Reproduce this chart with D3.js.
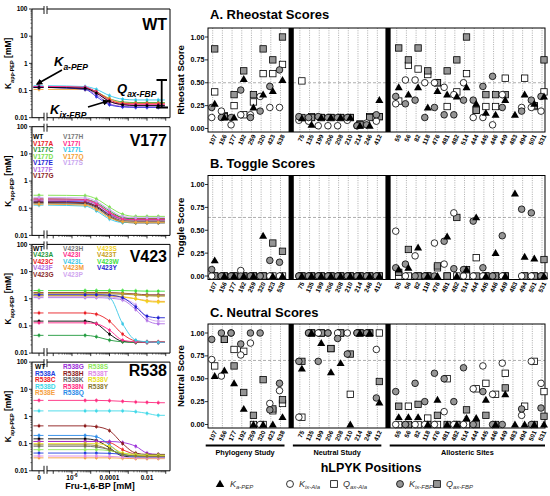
<!DOCTYPE html>
<html><head><meta charset="utf-8">
<script src="https://cdn.jsdelivr.net/npm/d3@7"></script>
<style>body{margin:0;background:#fff} svg{display:block;font-family:"Liberation Sans",Arial,Helvetica,sans-serif}</style>
</head><body><svg id="c" width="550" height="496"></svg>
<script>
// ================= DATA =================
// --- right: score panels ---
const phyloSites = [107,156,177,192,259,320,423,538];
const neutralSites = [75,135,199,206,208,210,214,246,412];
const alloSites = [55,56,82,118,476,481,482,514,444,445,446,449,483,494,501,531];
const categories = [...phyloSites, ...neutralSites, ...alloSites];
const scoreTicks = [0, 0.25, 0.5, 0.75, 1];
const scoreTickLabels = ['0.00','0.25','0.50','0.75','1.00'];

const rheoKaPEP  = [0.27,0.12,0.12,0.54,0.23,0.37,0.41,0.53, 0.11,0.04,0.12,0.12,0.12,0.12,0.03,0.03,0.31, 0.45,0.37,0.45,0.23,0.41,0.37,0.35,0.45,0.27,0.17,0.15,0.31,0.15,0.37,0.27,0.35];
const rheoKixAla = [0.12,0.19,0.04,0.15,0.15,0.35,0.23,0.23, 0.09,0.08,0.03,0.03,0.03,0.09,0.03,0.06,0.08, 0.27,0.53,0.53,0.50,0.50,0.45,0.37,0.50,0.12,0.12,0.04,0.37,null,0.23,0.23,0.19];
const rheoQaxAla = [0.40,0.14,0.25,0.15,0.29,0.60,0.60,0.70, 0.52,0.13,0.12,0.12,0.12,0.12,0.05,0.13,0.13, 0.30,0.69,0.65,0.59,0.50,0.24,0.40,0.60,0.20,0.24,0.24,0.55,null,0.55,0.24,0.40];
const rheoKixFBP = [0.23,0.12,0.12,0.42,0.12,0.19,0.46,0.64, 0.13,0.12,0.13,0.12,0.12,0.12,0.03,0.04,0.15, 0.35,0.27,0.31,0.12,0.23,0.15,0.15,0.31,0.31,0.46,0.57,0.23,null,0.19,0.31,0.35];
const rheoQaxFBP = [0.87,0.13,0.37,0.63,0.37,0.87,0.75,1.00, 0.12,0.12,0.12,0.12,0.12,0.12,0.04,0.12,0.13, 0.88,0.75,0.88,0.63,0.50,0.63,0.75,1.00,0.20,0.37,0.37,0.37,null,null,0.25,0.75];

const toggleKaPEP  = [0.17,0,0,0,0,0.44,0,0, 0,0,0,0,0,0,0,0,0, 0.07,0.09,0.31,0,0,0.43,0,0.07,0.64,0,0.25,0,0.90,0.21,0.19,0];
const toggleKixAla = [0,0,0,0.06,0,0,0,0, 0,0,0,0,0,0,0,0,0, 0.49,0,0.22,0,0.36,0.13,0.69,0,0,0,0,0,null,0,0,0];
const toggleQaxAla = [0,0,0,0,0,0,0,0, 0,0,0,0,0,0,0,0,0, 0,0,0,0,0.09,0,0,0,0.20,0,0,0,null,0,0,0];
const toggleKixFBP = [0.07,0,0,0,0,0,0.17,0.15, 0,0,0,0,0,0,0,0,0, 0.09,0.13,0,0,0,0.38,0.08,0.07,0.60,0.09,0,0.44,null,0.73,0.69,0];
const toggleQaxFBP = [0,0,0,0,0,0,0.36,0.27, 0,0,0,0,0,0,0,0,0, 0.04,0.29,0,0,0.11,0,0.64,0.07,0,0,0,0,null,0,0,0.18];

const neutralKaPEP  = [0.53,0.59,0.45,0.17,0,0,0,0.08, 0.61,1,0.89,0.57,0.67,0,1,1,0.24, 0.08,0.08,0.08,0,0.27,0,0,0.07,0.07,0.27,0,0.33,0,0,0,0];
const neutralKixAla = [0.71,0.53,1,0.76,0.89,0,0.23,0.37, 0.08,1,1,1,1,1,1,1,0.82, 0,0,0,0,0,0.14,0,0,0.39,0.64,0.33,0.67,null,0.10,0.69,0.45];
const neutralQaxAla = [0.64,0.93,0.82,0.80,0,0,0.15,0.23, 0.08,1,1,0.83,1,0.33,1,1,1, 0,0.20,0,0.07,0,0.50,0,0,0.39,0.45,0.33,0.56,null,0.20,0.69,0.36];
const neutralKixFBP = [0.93,1,1,0.88,1,1,0.16,0.45, 0.69,1,0.69,1,0.94,0.77,1,1,0.29, 0.36,0,0.45,0.25,0.56,0.50,0.25,0.62,0,0.36,0,0,null,0.17,0,0.18];
const neutralQaxFBP = [null,0.93,0.64,0.35,0.10,0.49,0.17,0.27, 0.69,1,1,0.83,1,0.77,1,1,0.47, 0.20,0,0.22,0,0.10,0,0,0.16,0,0.10,0,0.40,null,null,0,0.09];

// --- left: K_app-PEP vs Fru-1,6-BP ---
const fbpConc = [5e-6, 2e-5, 1e-4, 5e-4, 2.5e-3, 1e-2, 4e-2]; // values[0] is at Fru-1,6-BP = 0
const leftTicks = [0.01, 0.1, 1, 10, 100];
const leftTickLabels = ['0.01','0.1','1','10','100'];

const wtCurveColors = ['#2ec7ec','#1f9a3c','#f5a030','#ea2026','#ff2aa0','#9b4fe0','#2828d8','#000000'];
const wtCurveValues = [
  [0.15,0.14,0.11,0.065,0.048,0.045,0.045,0.045],
  [0.13,0.12,0.09,0.05,0.038,0.036,0.036,0.036],
  [0.11,0.11,0.085,0.05,0.035,0.034,0.034,0.034],
  [0.14,0.13,0.09,0.045,0.033,0.032,0.032,0.032],
  [0.14,0.13,0.085,0.04,0.031,0.03,0.03,0.03],
  [0.13,0.115,0.07,0.033,0.026,0.025,0.025,0.025],
  [0.13,0.11,0.06,0.03,0.025,0.024,0.024,0.024],
  [0.13,0.12,0.08,0.04,0.03,0.028,0.028,0.028]
];

const v177Names = ['WT','V177A','V177C','V177D','V177E','V177F','V177G','V177H','V177I','V177L','V177Q','V177S'];
const v177Colors = ['#000000','#ea2026','#1f9a3c','#7be04a','#2424d6','#b070e6','#8b1c1c','#7a7a7a','#ff2a8a','#2ec7ec','#f5a030','#c9a6f0'];
const v177Values = [
  [0.16,0.15,0.11,0.05,0.031,0.029,0.029,0.029],
  [0.2,0.19,0.14,0.07,0.045,0.042,0.042,0.042],
  [0.22,0.21,0.16,0.08,0.045,0.04,0.04,0.04],
  [0.3,0.29,0.22,0.11,0.06,0.05,0.05,0.05],
  [0.18,0.17,0.12,0.06,0.04,0.038,0.038,0.038],
  [0.2,0.19,0.14,0.065,0.04,0.037,0.037,0.037],
  [0.17,0.16,0.12,0.055,0.035,0.033,0.033,0.033],
  [0.15,0.14,0.1,0.05,0.035,0.034,0.034,0.034],
  [0.22,0.21,0.15,0.07,0.04,0.038,0.038,0.038],
  [0.13,0.12,0.08,0.04,0.03,0.03,0.03,0.03],
  [0.14,0.13,0.09,0.045,0.032,0.03,0.03,0.03],
  [0.25,0.24,0.18,0.09,0.05,0.045,0.045,0.045]
];

const v423Names = ['WT','V423A','V423C','V423F','V423G','V423H','V423I','V423L','V423M','V423P','V423S','V423T','V423W','V423Y'];
const v423Colors = ['#000000','#1f9a3c','#ea2026','#b070e6','#8b2a2a','#7a7a7a','#ff2a8a','#3cc8e6','#f39c33','#d1a6f0','#f2d21b','#c8a020','#3ee03e','#1f1fd0'];
const v423Values = [
  [0.15,0.15,0.12,0.05,0.027,0.025,0.025,0.025],
  [0.045,0.045,0.04,0.03,0.026,0.025,0.025,0.025],
  [0.3,0.3,0.27,0.15,0.05,0.028,0.026,0.026],
  [1.1,1.1,1.1,1.05,0.9,0.4,0.16,0.12],
  [1.7,1.7,1.7,1.7,1.6,1.5,1.4,1.4],
  [1.5,1.5,1.5,1.5,1.45,1.4,1.3,1.3],
  [0.13,0.13,0.12,0.07,0.03,0.026,0.025,0.025],
  [1.3,1.3,1.3,1.1,0.12,0.03,0.026,0.025],
  [1.3,1.3,1.3,1.25,1.15,1.0,0.85,0.8],
  [1.2,1.2,1.2,1.15,1.0,0.6,0.2,0.15],
  [1.3,1.3,1.3,1.3,1.2,1.0,0.8,0.75],
  [1.6,1.6,1.6,1.6,1.55,1.4,1.3,1.25],
  [2.0,2.0,2.0,2.0,2.0,1.95,1.9,1.9],
  [1.4,1.4,1.4,1.35,1.1,0.5,0.23,0.2]
];

const r538Names = ['WT','R538A','R538C','R538D','R538E','R538G','R538H','R538K','R538N','R538Q','R538S','R538T','R538V','R538Y'];
const r538Colors = ['#000000','#2040e0','#ee2222','#40d8e8','#f5a040','#9b30d9','#8b1a1a','#666666','#ff2a7f','#2a8ae8','#8ee85a','#e08ae8','#e8e020','#8a7a30'];
const r538Values = [
  [0.15,0.15,0.13,0.07,0.035,0.032,0.032,0.032],
  [0.045,0.045,0.045,0.044,0.04,0.035,0.033,0.033],
  [0.12,0.12,0.12,0.11,0.06,0.04,0.035,0.035],
  [1.6,1.6,1.6,1.6,1.6,1.5,1.3,1.1],
  [0.03,0.03,0.03,0.03,0.029,0.028,0.028,0.028],
  [0.12,0.12,0.12,0.12,0.11,0.08,0.045,0.04],
  [0.45,0.45,0.42,0.3,0.1,0.045,0.04,0.04],
  [0.08,0.08,0.075,0.06,0.04,0.035,0.034,0.034],
  [3.9,3.9,3.9,3.8,3.6,3.4,3.3,3.2],
  [0.2,0.2,0.18,0.09,0.04,0.033,0.032,0.032],
  [0.06,0.06,0.06,0.055,0.045,0.04,0.038,0.038],
  [0.035,0.035,0.035,0.034,0.032,0.03,0.03,0.03],
  [0.1,0.1,0.1,0.08,0.045,0.038,0.036,0.036],
  [0.09,0.09,0.085,0.06,0.04,0.035,0.034,0.034]
];

// ================= DRAWING =================
const svg = d3.select('#c');
const B = 'bold';

function subText(sel, x, y, main, sub, size, subSize, opts = {}) {
  const t = sel.append('text').attr('x', x).attr('y', y)
    .attr('font-size', size).attr('font-weight', opts.weight || B)
    .attr('fill', opts.fill || '#000');
  if (opts.italic) t.attr('font-style', 'italic');
  if (opts.anchor) t.attr('text-anchor', opts.anchor);
  if (opts.transform) t.attr('transform', opts.transform);
  t.append('tspan').text(main);
  t.append('tspan').attr('font-size', subSize).attr('dy', size * 0.3).text(sub);
  if (opts.tail) t.append('tspan').attr('font-size', size).attr('dy', -size * 0.3).attr('font-style', 'normal').text(opts.tail);
  return t;
}

// ---------- LEFT PANELS ----------
const L = { x0: 32, x1: 170, zeroX: 39, b0: 44, b1: 47, top0: 9, step: 117.7, h: 108.7 };
const xLog = d3.scaleLog().domain([Math.pow(10, -7.333), Math.pow(10, -0.773)]).range([L.b1, L.x1]);
const leftPanels = [
  { label: 'WT', labelY: 30, names: null, colors: wtCurveColors, values: wtCurveValues },
  { label: 'V177', labelY: 146, names: v177Names, colors: v177Colors, values: v177Values, rows: 7, colX: [33, 63], legY: 139 },
  { label: 'V423', labelY: 261.5, names: v423Names, colors: v423Colors, values: v423Values, rows: 5, colX: [33, 63, 97], legY: 250.5 },
  { label: 'R538', labelY: 376, names: r538Names, colors: r538Colors, values: r538Values, rows: 5, colX: [35, 63, 88], legY: 369 }
];
const line = d3.line().x(d => d[0]).y(d => d[1]).curve(d3.curveMonotoneX);

leftPanels.forEach((p, i) => {
  const top = L.top0 + i * L.step, bot = top + L.h;
  const y = d3.scaleLog().domain([0.01, 100]).range([bot, top]);
  const g = svg.append('g');

  // curves
  p.values.forEach((vals, j) => {
    const col = p.colors[j];
    const pts = [[L.b1 + 1, y(vals[0])]].concat(fbpConc.map((c, k) => [xLog(c), y(vals[k + 1])]));
    pts.push([xLog(0.09), y(vals[vals.length - 1])]);
    g.append('path').attr('d', line(pts)).attr('fill', 'none').attr('stroke', col).attr('stroke-width', 0.9);
    g.append('line').attr('x1', L.x0 + 1.5).attr('x2', L.b0 - 0.5)
      .attr('y1', y(vals[0])).attr('y2', y(vals[0])).attr('stroke', col).attr('stroke-width', 0.9);
    const mk = [[L.zeroX, y(vals[0])]].concat(fbpConc.map((c, k) => [xLog(c), y(vals[k + 1])]));
    mk.forEach(m => {
      g.append('line').attr('x1', m[0]).attr('x2', m[0]).attr('y1', m[1] - 2.2).attr('y2', m[1] + 2.2)
        .attr('stroke', col).attr('stroke-width', 0.6);
      g.append('rect').attr('x', m[0] - 1.2).attr('y', m[1] - 1.2).attr('width', 2.4).attr('height', 2.4).attr('fill', col);
    });
  });

  // frame with axis break
  const fr = d3.path();
  fr.moveTo(L.b0, top); fr.lineTo(L.x0, top); fr.lineTo(L.x0, bot); fr.lineTo(L.b0, bot);
  fr.moveTo(L.b1, top); fr.lineTo(L.x1, top); fr.lineTo(L.x1, bot); fr.lineTo(L.b1, bot);
  g.append('path').attr('d', fr.toString()).attr('fill', 'none').attr('stroke', '#000').attr('stroke-width', 1);
  [L.b0, L.b1].forEach(bx => {
    g.append('line').attr('x1', bx).attr('x2', bx).attr('y1', top - 3).attr('y2', top + 5).attr('stroke', '#000').attr('stroke-width', 0.9);
    g.append('line').attr('x1', bx).attr('x2', bx).attr('y1', bot - 5).attr('y2', bot + 3).attr('stroke', '#000').attr('stroke-width', 0.9);
  });

  // y ticks
  leftTicks.forEach((t, k) => {
    g.append('line').attr('x1', L.x0 - 3).attr('x2', L.x0).attr('y1', y(t)).attr('y2', y(t)).attr('stroke', '#000').attr('stroke-width', 0.8);
    g.append('text').attr('x', L.x0 - 4.5).attr('y', y(t)).attr('dy', '0.35em').attr('text-anchor', 'end')
      .attr('font-size', 6.5).attr('font-weight', B).text(leftTickLabels[k]);
    if (t < 100) for (let m = 2; m <= 9; m++) {
      g.append('line').attr('x1', L.x0 - 1.6).attr('x2', L.x0).attr('y1', y(t * m)).attr('y2', y(t * m)).attr('stroke', '#000').attr('stroke-width', 0.5);
    }
  });
  // x ticks
  g.append('line').attr('x1', L.zeroX).attr('x2', L.zeroX).attr('y1', bot).attr('y2', bot + 3).attr('stroke', '#000').attr('stroke-width', 0.8);
  for (let e = -7; e <= -1; e++) {
    const d = Math.pow(10, e);
    g.append('line').attr('x1', xLog(d)).attr('x2', xLog(d)).attr('y1', bot).attr('y2', bot + 3).attr('stroke', '#000').attr('stroke-width', 0.8);
    for (let m = 2; m <= 9; m++) {
      const v = d * m;
      if (v < xLog.domain()[1]) g.append('line').attr('x1', xLog(v)).attr('x2', xLog(v)).attr('y1', bot).attr('y2', bot + 1.6).attr('stroke', '#000').attr('stroke-width', 0.5);
    }
  }

  // y label
  const cy = (top + bot) / 2;
  subText(g, 0, 0, 'K', 'app-PEP', 8.5, 5.5, { anchor: 'middle', italic: false, tail: ' [mM]', transform: `translate(11,${cy}) rotate(-90)` });

  // panel label
  g.append('text').attr('x', 167).attr('y', p.labelY).attr('text-anchor', 'end')
    .attr('font-size', 16).attr('font-weight', B).text(p.label);

  // legend
  if (p.names) {
    p.names.forEach((n, k) => {
      const c = Math.floor(k / p.rows), r = k % p.rows;
      g.append('text').attr('x', p.colX[c]).attr('y', p.legY + r * 6.5)
        .attr('font-size', 6.6).attr('font-weight', B).attr('fill', p.colors[k]).text(n);
    });
  }

  // bottom-panel x labels
  if (i === leftPanels.length - 1) {
    const ly = bot + 9;
    g.append('text').attr('x', L.zeroX).attr('y', ly).attr('text-anchor', 'middle').attr('font-size', 6.5).attr('font-weight', B).text('0');
    const t6 = g.append('text').attr('x', xLog(1e-6)).attr('y', ly).attr('text-anchor', 'middle').attr('font-size', 6.5).attr('font-weight', B);
    t6.append('tspan').text('10');
    t6.append('tspan').attr('font-size', 4.5).attr('dy', -3).text('-6');
    g.append('text').attr('x', xLog(1e-4)).attr('y', ly).attr('text-anchor', 'middle').attr('font-size', 6.5).attr('font-weight', B).text('0.0001');
    g.append('text').attr('x', xLog(1e-2)).attr('y', ly).attr('text-anchor', 'middle').attr('font-size', 6.5).attr('font-weight', B).text('0.01');
    g.append('text').attr('x', 100).attr('y', bot + 18).attr('text-anchor', 'middle').attr('font-size', 9).attr('font-weight', B).text('Fru-1,6-BP [mM]');
  }
});

// WT annotations
(function () {
  const g = svg.append('g');
  const defs = svg.append('defs');
  defs.append('marker').attr('id', 'ah').attr('viewBox', '0 0 10 10').attr('refX', 8).attr('refY', 5)
    .attr('markerWidth', 4).attr('markerHeight', 4).attr('orient', 'auto')
    .append('path').attr('d', 'M0,0 L10,5 L0,10 z').attr('fill', '#000');
  subText(g, 54, 66, 'K', 'a-PEP', 13, 8.5, { italic: true });
  g.append('line').attr('x1', 62).attr('y1', 70).attr('x2', 37).attr('y2', 84).attr('stroke', '#000').attr('stroke-width', 1.6).attr('marker-end', 'url(#ah)');
  subText(g, 50, 114, 'K', 'ix-FBP', 13, 8.5, { italic: true });
  g.append('line').attr('x1', 88).attr('y1', 107).attr('x2', 108).attr('y2', 101).attr('stroke', '#000').attr('stroke-width', 1.6).attr('marker-end', 'url(#ah)');
  subText(g, 117, 93, 'Q', 'ax-FBP', 13, 8.5, { italic: true });
  g.append('path').attr('d', 'M156.5,80 H167 M161.7,80 V107.5 M156,107.5 H168').attr('stroke', '#000').attr('stroke-width', 1.8).attr('fill', 'none');
})();

// ---------- RIGHT PANELS ----------
const slots = [...phyloSites.map(String), 'sep1', ...neutralSites.map(String), 'sep2', ...alloSites.map(String)];
const xCat = d3.scalePoint().domain(slots).range([212.7, 542]);
const R = { x0: 208, x1: 545, h: 104 };
const seriesDefs = [
  { key: 'QaxAla', shape: 'square', fill: '#fff', dx: 2 },
  { key: 'QaxFBP', shape: 'square', fill: '#959595', dx: 2 },
  { key: 'KixAla', shape: 'circle', fill: '#fff', dx: -1 },
  { key: 'KixFBP', shape: 'circle', fill: '#959595', dx: -1 },
  { key: 'KaPEP', shape: 'triangle', fill: '#000', dx: 2 }
];
const scorePanels = [
  { title: 'A. Rheostat Scores', ylab: 'Rheostat Score', top: 28, titleY: 18.5, thr: 0.5,
    data: { KaPEP: rheoKaPEP, KixAla: rheoKixAla, QaxAla: rheoQaxAla, KixFBP: rheoKixFBP, QaxFBP: rheoQaxFBP } },
  { title: 'B. Toggle Scores', ylab: 'Toggle Score', top: 175.5, titleY: 167.5, thr: 0.64,
    data: { KaPEP: toggleKaPEP, KixAla: toggleKixAla, QaxAla: toggleQaxAla, KixFBP: toggleKixFBP, QaxFBP: toggleQaxFBP } },
  { title: 'C. Neutral Scores', ylab: 'Neutral Score', top: 324, titleY: 317, thr: 0.70,
    data: { KaPEP: neutralKaPEP, KixAla: neutralKixAla, QaxAla: neutralQaxAla, KixFBP: neutralKixFBP, QaxFBP: neutralQaxFBP } }
];

function drawSymbol(g, shape, x, y, fill, scale = 1) {
  if (shape === 'circle') {
    g.append('circle').attr('cx', x).attr('cy', y).attr('r', 3.3 * scale).attr('fill', fill).attr('stroke', '#000').attr('stroke-width', 0.8);
  } else if (shape === 'square') {
    const s = 6.4 * scale;
    g.append('rect').attr('x', x - s / 2).attr('y', y - s / 2).attr('width', s).attr('height', s).attr('fill', fill).attr('stroke', '#000').attr('stroke-width', 0.8);
  } else {
    g.append('path').attr('d', d3.symbol().type(d3.symbolTriangle).size(28 * scale * scale)()).attr('transform', `translate(${x},${y + 0.6})`).attr('fill', '#000');
  }
}

scorePanels.forEach((p, pi) => {
  const g = svg.append('g');
  const top = p.top, bot = top + R.h;
  const y = d3.scaleLinear().domain([0, 1]).range([top + 100.5, top + 9]);

  g.append('text').attr('x', 210).attr('y', p.titleY).attr('font-size', 13).attr('font-weight', B).text(p.title);

  // grid
  categories.forEach(c => {
    const x = xCat(String(c));
    g.append('line').attr('x1', x).attr('x2', x).attr('y1', top).attr('y2', bot)
      .attr('stroke', '#8a8a8a').attr('stroke-width', 0.7).attr('stroke-dasharray', '1,1.3');
  });
  g.append('line').attr('x1', R.x0).attr('x2', R.x1).attr('y1', y(p.thr)).attr('y2', y(p.thr))
    .attr('stroke', '#8a8a8a').attr('stroke-width', 0.7).attr('stroke-dasharray', '3,2');

  // separators
  ['sep1', 'sep2'].forEach(s => {
    g.append('rect').attr('x', xCat(s) + 1 - 2.6).attr('y', top).attr('width', 5.2).attr('height', R.h).attr('fill', '#000');
  });

  // frame
  g.append('rect').attr('x', R.x0).attr('y', top).attr('width', R.x1 - R.x0).attr('height', R.h)
    .attr('fill', 'none').attr('stroke', '#000').attr('stroke-width', 1);

  // y axis
  scoreTicks.forEach((t, k) => {
    g.append('line').attr('x1', R.x0 - 3).attr('x2', R.x0).attr('y1', y(t)).attr('y2', y(t)).attr('stroke', '#000').attr('stroke-width', 0.8);
    g.append('text').attr('x', R.x0 - 3.5).attr('y', y(t)).attr('dy', '0.35em').attr('text-anchor', 'end')
      .attr('font-size', 7.2).attr('font-weight', B).text(scoreTickLabels[k]);
  });
  g.append('text').attr('transform', `translate(183.5,${(top + bot) / 2}) rotate(-90)`).attr('text-anchor', 'middle')
    .attr('font-size', 9.5).attr('font-weight', B).text(p.ylab);

  // x tick labels
  categories.forEach(c => {
    const x = xCat(String(c));
    g.append('text').attr('transform', `translate(${x + 2.5},${bot + 3}) rotate(-65)`).attr('text-anchor', 'end')
      .attr('dy', '0.35em').attr('font-size', 6.3).attr('font-weight', B).text(c);
  });

  // markers
  seriesDefs.forEach(sd => {
    const vals = p.data[sd.key];
    vals.forEach((v, k) => {
      if (v === null) return;
      drawSymbol(g, sd.shape, xCat(String(categories[k])) + sd.dx, y(v), sd.fill);
    });
  });

  if (pi === scorePanels.length - 1) {
    const gy = bot + 17.5;
    [[phyloSites, 'Phylogeny Study'], [neutralSites, 'Neutral Study'], [alloSites, 'Allosteric Sites']].forEach(([arr, name]) => {
      const xa = xCat(String(arr[0])) - 7, xb = Math.min(xCat(String(arr[arr.length - 1])) + 4, R.x1);
      g.append('line').attr('x1', xa).attr('x2', xb).attr('y1', gy).attr('y2', gy).attr('stroke', '#000').attr('stroke-width', 2);
      g.append('text').attr('x', (xa + xb) / 2).attr('y', gy + 9.5).attr('text-anchor', 'middle')
        .attr('font-size', 7.3).attr('font-weight', B).text(name);
    });
    g.append('text').attr('x', 371).attr('y', 472).attr('text-anchor', 'middle').attr('font-size', 12.5).attr('font-weight', B).text('hLPYK Positions');
  }
});

// legend
(function () {
  const g = svg.append('g');
  const ly = 484;
  const items = [
    { shape: 'triangle', fill: '#000', sx: 220, tx: 230, main: 'K', sub: 'a-PEP' },
    { shape: 'circle', fill: '#fff', sx: 290, tx: 299, main: 'K', sub: 'ix-Ala' },
    { shape: 'square', fill: '#fff', sx: 334, tx: 343, main: 'Q', sub: 'ax-Ala' },
    { shape: 'circle', fill: '#959595', sx: 400, tx: 409, main: 'K', sub: 'ix-FBP' },
    { shape: 'square', fill: '#959595', sx: 437, tx: 446, main: 'Q', sub: 'ax-FBP' }
  ];
  items.forEach(it => {
    drawSymbol(g, it.shape, it.sx, ly, it.fill, 1.05);
    subText(g, it.tx, ly + 2.5, it.main, it.sub, 9, 6, { italic: true, weight: 'normal', fill: '#333' });
  });
})();
</script>
</body></html>
